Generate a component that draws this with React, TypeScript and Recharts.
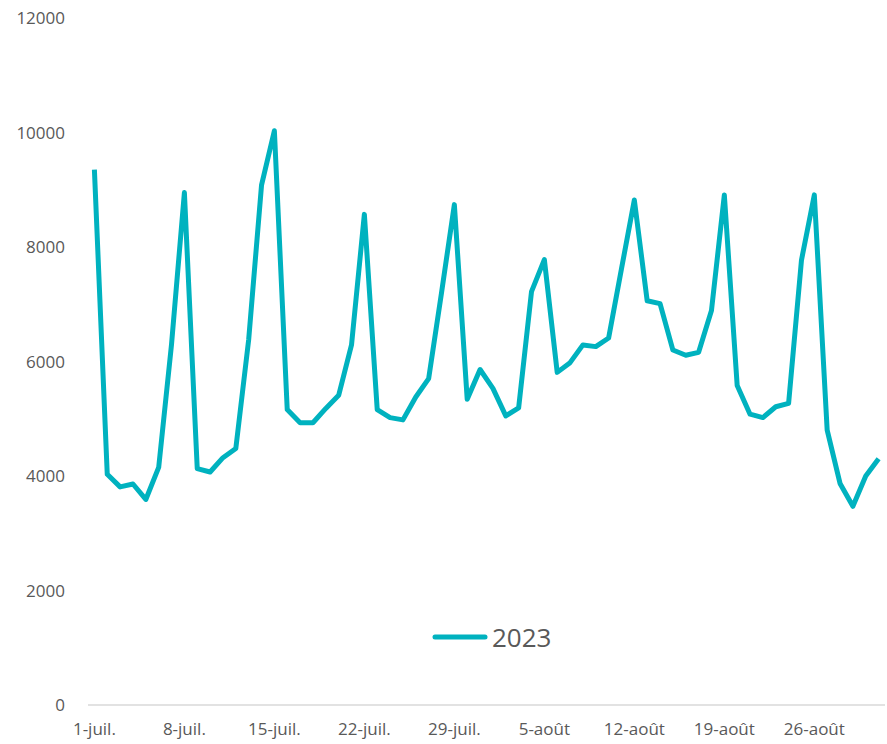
import { LineChart, Line, XAxis, YAxis } from "recharts";

const julyDays = Array.from({ length: 31 }, (_, i) => `${i + 1}-juil.`);
const augustDays = Array.from({ length: 31 }, (_, i) => `${i + 1}-août`);
const dates = [...julyDays, ...augustDays];

const visits2023 = [
    9350, 4030, 3810, 3860, 3590, 4150, 6300, 8950, 4130, 4070,
    4320, 4480, 6380, 9080, 10030, 5160, 4930, 4930, 5180, 5410,
    6290, 8570, 5160, 5020, 4980, 5380, 5700, 7200, 8740, 5340,
    5860, 5530, 5050, 5190, 7220, 7780, 5810, 5980, 6290, 6260,
    6410, 7620, 8820, 7060, 7010, 6200, 6110, 6160, 6890, 8910,
    5580, 5080, 5020, 5210, 5270, 7770, 8910, 4800, 3870, 3470,
    4000, 4300,
];

const yTicks = [0, 2000, 4000, 6000, 8000, 10000, 12000];

const data = dates.map((date, i) => ({ date, v2023: visits2023[i] }));

const TEXT = "#595959";
const LINE = "#00B2BF";
const FONT = "'Open Sans', sans-serif";

export default function App() {
    return (
        <div style={{ position: "absolute", left: 0, top: 0, width: 887, height: 744, background: "#fff", fontFamily: FONT }}>
            <LineChart width={887} height={744} data={data} margin={{ top: 18, right: 2, left: 0, bottom: 0 }}>
                <XAxis
                    dataKey="date"
                    interval={6}
                    padding={{ left: 6.4, right: 6.4 }}
                    axisLine={{ stroke: "#D9D9D9", strokeWidth: 1.5 }}
                    tickLine={false}
                    height={39}
                    tick={{ fill: TEXT, fontSize: 17, fontFamily: FONT }}
                    tickMargin={12}
                />
                <YAxis
                    domain={[0, 12000]}
                    ticks={yTicks}
                    axisLine={false}
                    tickLine={false}
                    width={88}
                    tickMargin={17}
                    tick={{ fill: TEXT, fontSize: 17, fontFamily: FONT }}
                />
                <Line
                    dataKey="v2023"
                    name="2023"
                    stroke={LINE}
                    strokeWidth={5}
                    dot={false}
                    type="linear"
                    strokeLinejoin="round"
                    isAnimationActive={false}
                />
            </LineChart>
            <div style={{ position: "absolute", left: 432, top: 619, display: "flex", alignItems: "center", gap: 4 }}>
                <svg width={56} height={8}>
                    <line x1={3} y1={4} x2={53} y2={4} stroke={LINE} strokeWidth={5} strokeLinecap="round" />
                </svg>
                <span style={{ color: TEXT, fontSize: 26, fontFamily: FONT }}>2023</span>
            </div>
        </div>
    );
}
